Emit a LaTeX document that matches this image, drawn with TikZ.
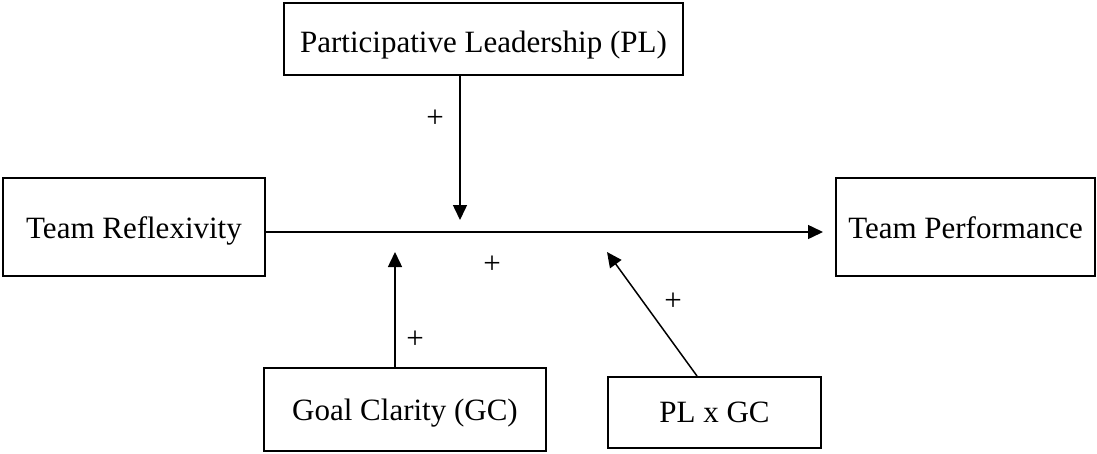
\documentclass[tikz,border=0pt]{standalone}
\usepackage{fontspec}
\setmainfont{Liberation Serif}
\usetikzlibrary{arrows.meta}
\newcommand{\lowertext}[2]{\raisebox{-#1}[\height][\depth]{#2}}
\begin{document}
\begin{tikzpicture}[x=1pt,y=-1pt,
  every node/.style={font=\fontsize{31}{37}\selectfont},
  varbox/.style={draw,line width=1.5pt,inner sep=0pt,anchor=center},
  link/.style={line width=1.5pt,-{Triangle[length=15pt,width=14pt]}},
  sign/.style={inner sep=0pt}]
\useasboundingbox (0,0) rectangle (1097,453);
\node[varbox,minimum width=399pt,minimum height=72pt] (PL) at (483.5,39) {\lowertext{6pt}{Participative Leadership (PL)}};
\node[varbox,minimum width=262pt,minimum height=98pt] (TR) at (134,227) {\lowertext{4pt}{Team Reflexivity}};
\node[varbox,minimum width=259pt,minimum height=98pt] (TP) at (965.5,227) {\lowertext{1pt}{Team Performance}};
\node[varbox,minimum width=282pt,minimum height=83pt] (GC) at (405,409.5) {\lowertext{4pt}{Goal Clarity (GC)}};
\node[varbox,minimum width=213pt,minimum height=71pt] (PLGC) at (714.5,412.5) {PL x GC};
\coordinate (mainS) at (265,232);
\coordinate (tipM) at (823,232);
\coordinate (tipPL) at (460,220);
\coordinate (tipGC) at (395,252);
\coordinate (tipX) at (607,252);
\coordinate (startX) at (697,376);
\draw[link] (TR.east |- mainS) -- (tipM);
\draw[link] (PL.south -| tipPL) -- (tipPL);
\draw[link] (GC.north -| tipGC) -- (tipGC);
\draw[link] (startX) -- (tipX);
\node[sign] (s1) at (435,119) {+};
\node[sign] (s2) at (492,265) {+};
\node[sign] (s3) at (415,340) {+};
\node[sign] (s4) at (673,302) {+};
\end{tikzpicture}
\end{document}
